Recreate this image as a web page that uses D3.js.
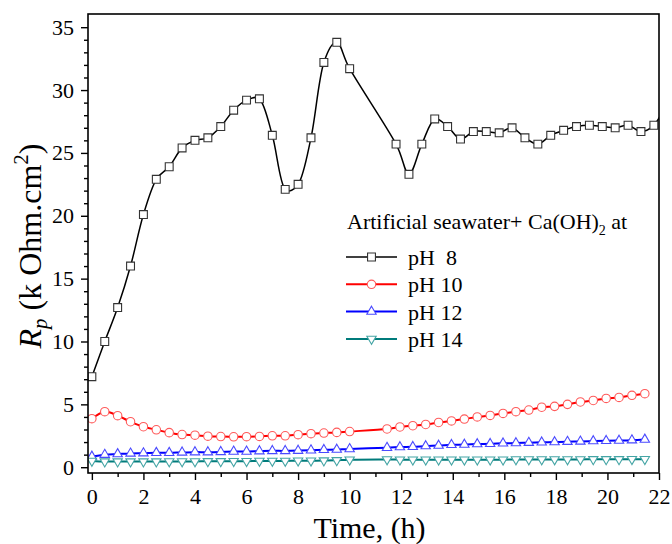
<!DOCTYPE html>
<html>
<head>
<meta charset="utf-8">
<script src="https://cdn.jsdelivr.net/npm/d3@7"></script>
<style>
  body { margin: 0; background: #fff; }
  text { font-family: "Liberation Serif", "Times New Roman", serif; }
</style>
</head>
<body>
<script>
// pH 8 series (squares)
var hoursPH8 = [0, 0.5, 1, 1.5, 2, 2.5, 3, 3.5, 4, 4.5, 5, 5.5, 6, 6.5, 7, 7.5, 8, 8.5, 9, 9.5, 10,
    11.8, 12.3, 12.8, 13.3, 13.8, 14.3, 14.8, 15.3, 15.8, 16.3, 16.8, 17.3, 17.8, 18.3, 18.8,
    19.3, 19.8, 20.3, 20.8, 21.3, 21.8, 22.3];
var rpPH8 = [7.2, 10.0, 12.7, 16.0, 20.1, 22.9, 23.9, 25.4, 26.0, 26.2, 27.1, 28.4, 29.2, 29.3, 26.4, 22.1, 22.5, 26.2, 32.2, 33.8, 31.7,
    25.7, 23.3, 25.7, 27.7, 27.1, 26.1, 26.7, 26.7, 26.6, 27.0, 26.2, 25.7, 26.4, 26.8, 27.1,
    27.2, 27.1, 27.0, 27.2, 26.7, 27.2, 29.0];

// pH 10 / 12 / 14 share the same sampling times
var hoursOther = [0, 0.5, 1, 1.5, 2, 2.5, 3, 3.5, 4, 4.5, 5, 5.5, 6, 6.5, 7, 7.5, 8, 8.5, 9, 9.5, 10,
    11.45, 11.95, 12.45, 12.95, 13.45, 13.95, 14.45, 14.95, 15.45, 15.95, 16.45, 16.95, 17.45,
    17.95, 18.45, 18.95, 19.45, 19.95, 20.45, 20.95, 21.45];
var rpPH10 = [3.86, 4.42, 4.1, 3.62, 3.22, 2.98, 2.75, 2.6, 2.55, 2.47, 2.44, 2.42, 2.43, 2.45, 2.5, 2.5, 2.59, 2.67, 2.72, 2.77, 2.84,
    3.04, 3.2, 3.3, 3.4, 3.56, 3.68, 3.83, 4.0, 4.12, 4.28, 4.42, 4.55, 4.77,
    4.84, 5.0, 5.19, 5.31, 5.47, 5.55, 5.72, 5.85];
var rpPH12 = [0.85, 1.0, 1.05, 1.1, 1.12, 1.15, 1.15, 1.18, 1.2, 1.2, 1.22, 1.25, 1.25, 1.28, 1.3, 1.3, 1.32, 1.35, 1.38, 1.4, 1.45,
    1.55, 1.6, 1.62, 1.68, 1.72, 1.78, 1.8, 1.84, 1.86, 1.9, 1.92, 1.95, 1.98,
    2.0, 2.03, 2.05, 2.08, 2.1, 2.12, 2.15, 2.2];
var rpPH14 = [0.5, 0.45, 0.45, 0.45, 0.45, 0.45, 0.46, 0.46, 0.46, 0.47, 0.47, 0.48, 0.48, 0.5, 0.5, 0.5, 0.52, 0.52, 0.53, 0.55, 0.6,
    0.62, 0.6, 0.6, 0.6, 0.6, 0.6, 0.6, 0.6, 0.6, 0.6, 0.62, 0.62, 0.62,
    0.62, 0.62, 0.62, 0.63, 0.63, 0.63, 0.64, 0.64];

var legendTitle = "Artificial seawater+ Ca(OH)";
var legendLabels = ["pH  8", "pH 10", "pH 12", "pH 14"];
var xTickValues = [0, 2, 4, 6, 8, 10, 12, 14, 16, 18, 20, 22];
var yTickValues = [0, 5, 10, 15, 20, 25, 30, 35];

var width = 672, height = 544;
var pLeft = 88, pRight = 659, pTop = 14, pBottom = 473;
var serif = '"Liberation Serif", "Times New Roman", serif';

var x = d3.scaleLinear().domain([-0.15, 22]).range([pLeft, pRight]);
var y = d3.scaleLinear().domain([-0.46, 36.05]).range([pBottom, pTop]);

var svg = d3.select('body').append('svg')
    .attr('width', width)
    .attr('height', height);

svg.append('defs').append('clipPath').attr('id', 'plot')
    .append('rect')
    .attr('x', pLeft).attr('y', pTop)
    .attr('width', pRight - pLeft).attr('height', pBottom - pTop);

// series definitions: line colour, marker stroke, marker type
var series = [
    { t: hoursPH8, v: rpPH8, line: '#000', mark: '#333', width: 1.5, sym: d3.symbolSquare, size: 62 },
    { t: hoursOther, v: rpPH10, line: '#ff0000', mark: '#ff5a5a', width: 2, sym: d3.symbolCircle, size: 56 },
    { t: hoursOther, v: rpPH12, line: '#0000ff', mark: '#4a4aff', width: 2, sym: d3.symbolTriangle, size: 38 },
    { t: hoursOther, v: rpPH14, line: '#007b7b', mark: '#45a5a5', width: 2, sym: d3.symbolTriangle, size: 38, flip: true }
];

var line = d3.line()
    .x(function(d) { return x(d[0]); })
    .y(function(d) { return y(d[1]); })
    .curve(d3.curveCatmullRom.alpha(0.3));

var plot = svg.append('g').attr('clip-path', 'url(#plot)');

series.forEach(function(s) {
    var pts = s.t.map(function(t, i) { return [t, s.v[i]]; });
    plot.append('path')
        .datum(pts)
        .attr('d', line)
        .attr('fill', 'none')
        .attr('stroke', s.line)
        .attr('stroke-width', s.width);
    plot.selectAll(null)
        .data(pts)
        .enter().append('path')
        .attr('d', d3.symbol().type(s.sym).size(s.size))
        .attr('transform', function(d) {
            return 'translate(' + x(d[0]) + ',' + y(d[1]) + ')' + (s.flip ? ' rotate(180)' : '');
        })
        .attr('fill', '#fff')
        .attr('stroke', s.mark)
        .attr('stroke-width', 1.1);
});

// frame
svg.append('rect')
    .attr('x', pLeft).attr('y', pTop)
    .attr('width', pRight - pLeft).attr('height', pBottom - pTop)
    .attr('fill', 'none')
    .attr('stroke', '#000')
    .attr('stroke-width', 1.6);

// axes: major ticks with labels, minor ticks without
function styleAxis(g) {
    g.attr('font-family', serif).attr('font-size', 22);
    g.select('.domain').remove();
    g.selectAll('.tick line').attr('stroke', '#000').attr('stroke-width', 1.4);
    g.selectAll('.tick text').attr('fill', '#000').style('font-family', serif).style('font-size', '22px');
}

svg.append('g').attr('transform', 'translate(0,' + pBottom + ')')
    .call(d3.axisBottom(x).tickValues(xTickValues).tickSize(7).tickPadding(8).tickFormat(d3.format('d')))
    .call(styleAxis);
svg.append('g').attr('transform', 'translate(0,' + pBottom + ')')
    .call(d3.axisBottom(x).tickValues(d3.range(1, 22, 2)).tickSize(4).tickFormat(''))
    .call(styleAxis);

svg.append('g').attr('transform', 'translate(' + pLeft + ',0)')
    .call(d3.axisLeft(y).tickValues(yTickValues).tickSize(7).tickPadding(7).tickFormat(d3.format('d')))
    .call(styleAxis);
svg.append('g').attr('transform', 'translate(' + pLeft + ',0)')
    .call(d3.axisLeft(y).tickValues(d3.range(0, 36).filter(function(d) { return d % 5; })).tickSize(4).tickFormat(''))
    .call(styleAxis);

// axis titles
svg.append('text')
    .attr('x', (pLeft + pRight) / 2 - 4)
    .attr('y', 538)
    .attr('text-anchor', 'middle')
    .style('font-size', '30px')
    .text('Time, (h)');

var yt = svg.append('text')
    .attr('transform', 'translate(41,246) rotate(-90)')
    .attr('text-anchor', 'middle')
    .style('font-size', '32px');
yt.append('tspan').style('font-style', 'italic').text('R');
yt.append('tspan').style('font-style', 'italic').style('font-size', '21px').attr('dy', 6).text('p');
yt.append('tspan').attr('dy', -6).text(' (k Ohm.cm');
yt.append('tspan').style('font-size', '21px').attr('dy', -13).text('2');
yt.append('tspan').attr('dy', 13).text(')');

// legend
var lg = svg.append('g');
var title = lg.append('text')
    .attr('x', 347).attr('y', 229)
    .style('font-size', '22px');
title.append('tspan').text(legendTitle);
title.append('tspan').style('font-size', '14px').attr('dy', 6).text('2');
title.append('tspan').attr('dy', -6).text(' at');

legendLabels.forEach(function(lab, i) {
    var s = series[i];
    var yy = 257 + i * 27.3;
    lg.append('line')
        .attr('x1', 346).attr('x2', 397)
        .attr('y1', yy).attr('y2', yy)
        .attr('stroke', s.line)
        .attr('stroke-width', s.width);
    lg.append('path')
        .attr('d', d3.symbol().type(s.sym).size(s.size)())
        .attr('transform', 'translate(371.5,' + yy + ')' + (s.flip ? ' rotate(180)' : ''))
        .attr('fill', '#fff')
        .attr('stroke', s.mark)
        .attr('stroke-width', 1.1);
    lg.append('text')
        .attr('x', 408).attr('y', yy + 8)
        .style('font-size', '22px')
        .style('white-space', 'pre')
        .text(lab);
});
</script>
</body>
</html>
